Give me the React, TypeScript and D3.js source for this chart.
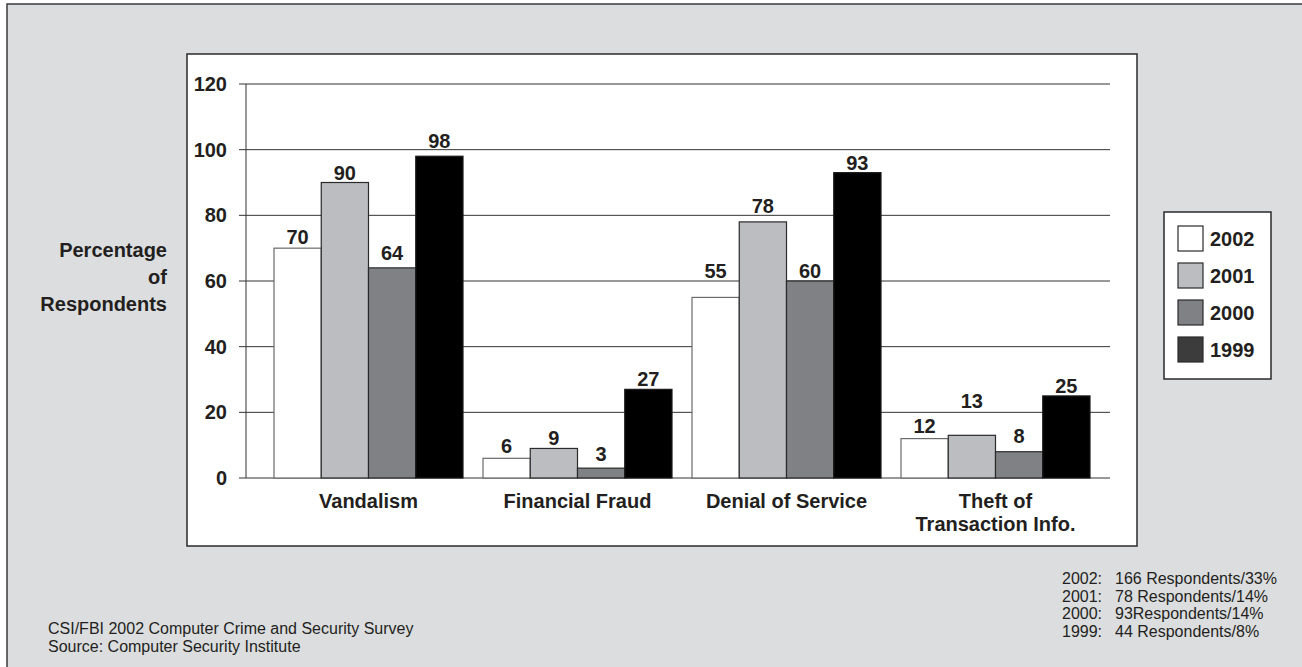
import React from "react";
import * as d3 from "d3";

const categories = ["Vandalism", "Financial Fraud", "Denial of Service", "Theft of\nTransaction Info."];
const years = ["2002", "2001", "2000", "1999"];
const values2002 = [70, 6, 55, 12];
const values2001 = [90, 9, 78, 13];
const values2000 = [64, 3, 60, 8];
const values1999 = [98, 27, 93, 25];
const yTicks = [0, 20, 40, 60, 80, 100, 120];
const respondentNotes = [
  ["2002:", "166 Respondents/33%"],
  ["2001:", "78 Respondents/14%"],
  ["2000:", "93Respondents/14%"],
  ["1999:", "44 Respondents/8%"],
];
const sourceLines = ["CSI/FBI 2002 Computer Crime and Security Survey", "Source: Computer Security Institute"];
const yTitle = ["Percentage", "of", "Respondents"];

const seriesValues = [values2002, values2001, values2000, values1999];
const barFill = ["#ffffff", "#bcbdc0", "#808184", "#000000"];
const barStroke = ["#6a6a6a", "#2a2a2a", "#2a2a2a", "#1a1a1a"];
const legendFill = ["#ffffff", "#bcbdc0", "#808184", "#3c3c3c"];
// extra lift (px) of each value label above its bar, per category then per year, as placed in the original
const labelLift = [
  [4, 3, 8, 8],
  [5, 3.5, 7, 3],
  [19, 9, 3, 3],
  [5.5, 27, 8.5, 3],
];

const FONT = "'Liberation Sans', Arial, Helvetica, sans-serif";

export default function App() {
  const W = 1302, H = 667;
  const y = d3.scaleLinear().domain([0, 120]).range([478, 84]);
  const x = d3.scaleBand<string>().domain(categories).range([264, 1100]).paddingInner(20 / 209).paddingOuter(10 / 209);
  const xs = d3.scaleBand<string>().domain(years).range([0, x.bandwidth()]);

  return (
    <svg width={W} height={H} style={{ position: "absolute", left: 0, top: 0, display: "block" }} fontFamily={FONT}>
      <rect x={7} y={4} width={1320} height={700} fill="#dcdddf" stroke="#3a3a3a" strokeWidth={1.5} />
      <rect x={187} y={54} width={950} height={492} fill="#ffffff" stroke="#2a2a2a" strokeWidth={1.5} />

      {/* gridlines and ticks */}
      {yTicks.map((t) => (
        <g key={t}>
          <line x1={239} x2={1110} y1={y(t)} y2={y(t)} stroke="#333" strokeWidth={1} />
          <text x={227} y={y(t) + 7} textAnchor="end" fontSize={20} fontWeight="bold" fill="#231f20">{t}</text>
        </g>
      ))}
      <line x1={246} x2={246} y1={y(120)} y2={y(0)} stroke="#333" strokeWidth={1} />

      {/* y title */}
      {yTitle.map((s, i) => (
        <text key={s} x={167} y={257 + i * 27} textAnchor="end" fontSize={20} fontWeight="bold" fill="#231f20">{s}</text>
      ))}

      {/* bars */}
      {categories.map((c, ci) => (
        <g key={c} transform={`translate(${x(c)},0)`}>
          {years.map((yr, si) => {
            const v = seriesValues[si][ci];
            const bx = xs(yr) as number;
            return (
              <g key={yr}>
                <rect x={bx} y={y(v)} width={xs.bandwidth()} height={y(0) - y(v)} fill={barFill[si]} stroke={barStroke[si]} strokeWidth={1.2} />
                <text x={bx + xs.bandwidth() / 2} y={y(v) - labelLift[ci][si]} textAnchor="middle" fontSize={20} fontWeight="bold" fill="#231f20">{v}</text>
              </g>
            );
          })}
        </g>
      ))}

      {/* category labels */}
      {categories.map((c) => (
        <text key={c} x={(x(c) as number) + x.bandwidth() / 2} y={508} textAnchor="middle" fontSize={20} fontWeight="bold" fill="#231f20">
          {c.split("\n").map((line, i) => (
            <tspan key={i} x={(x(c) as number) + x.bandwidth() / 2} dy={i === 0 ? 0 : 23}>{line}</tspan>
          ))}
        </text>
      ))}

      {/* legend */}
      <rect x={1164} y={212} width={107} height={167} fill="#ffffff" stroke="#2a2a2a" strokeWidth={1.5} />
      {years.map((yr, i) => (
        <g key={yr}>
          <rect x={1178} y={226 + i * 37} width={25} height={25} fill={legendFill[i]} stroke="#2a2a2a" strokeWidth={1.2} />
          <text x={1210} y={226 + i * 37 + 20} fontSize={20} fontWeight="bold" fill="#231f20">{yr}</text>
        </g>
      ))}

      {/* respondent notes */}
      {respondentNotes.map(([a, b], i) => (
        <g key={a}>
          <text x={1062} y={584 + i * 17.5} fontSize={16} fill="#231f20">{a}</text>
          <text x={1115} y={584 + i * 17.5} fontSize={16} fill="#231f20">{b}</text>
        </g>
      ))}

      {/* source */}
      {sourceLines.map((s, i) => (
        <text key={s} x={48} y={634 + i * 18} fontSize={16} fill="#231f20">{s}</text>
      ))}
    </svg>
  );
}
